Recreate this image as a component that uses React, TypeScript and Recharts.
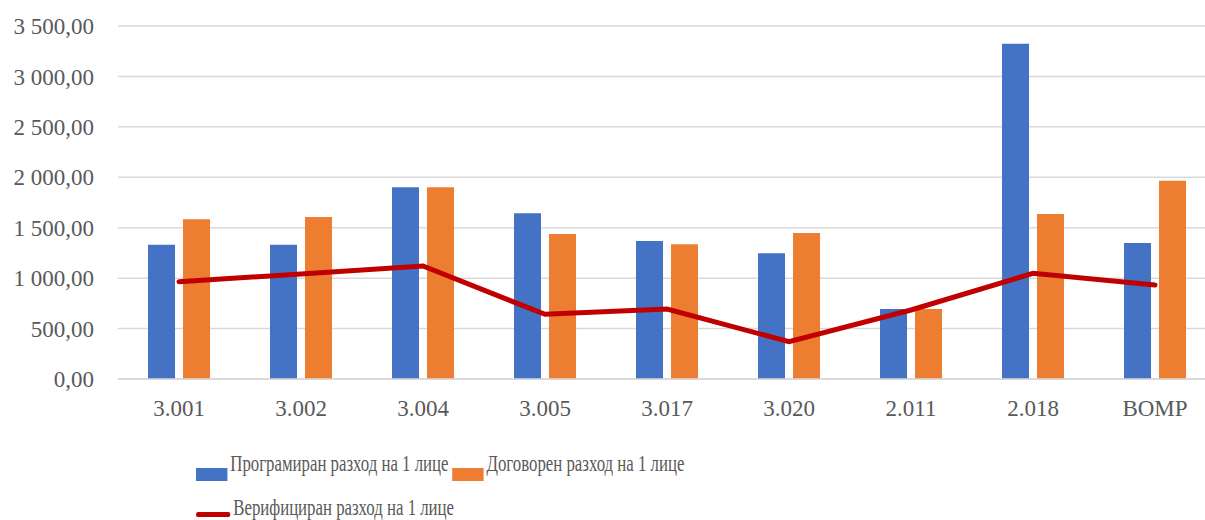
import React from "react";
import { ComposedChart, Bar, Line, XAxis, YAxis, CartesianGrid } from "recharts";

const categories = ["3.001", "3.002", "3.004", "3.005", "3.017", "3.020", "2.011", "2.018", "BOMP"];
const programmed = [1331, 1331, 1901, 1643, 1368, 1246, 694, 3325, 1348];
const contracted = [1583, 1606, 1901, 1438, 1335, 1448, 694, 1636, 1966];
const verified = [965, 1041, 1120, 641, 694, 370, 684, 1048, 932];
const yTicks = [0, 500, 1000, 1500, 2000, 2500, 3000, 3500];

const series = [
  { key: "programmed", name: "Програмиран разход на 1 лице", color: "#4472C4", kind: "bar" },
  { key: "contracted", name: "Договорен разход на 1 лице", color: "#ED7D31", kind: "bar" },
  { key: "verified", name: "Верифициран разход на 1 лице", color: "#C00000", kind: "line" },
];

const data = categories.map((name, i) => ({
  name,
  programmed: programmed[i],
  contracted: contracted[i],
  verified: verified[i],
}));

const FONT = "'Liberation Serif', 'DejaVu Serif', serif";
const TEXT = "#595959";

function fmt(v: number) {
  const [int, dec] = v.toFixed(2).split(".");
  return int.replace(/\B(?=(\d{3})+(?!\d))/g, " ") + "," + dec;
}

// legend text in the source is horizontally squeezed, so the whole legend is scaled in x
function LegendItem({ s }: { s: (typeof series)[number] }) {
  return (
    <div style={{ display: "flex", alignItems: "flex-start", marginRight: 5, flexShrink: 0 }}>
      {s.kind === "bar" ? (
        <div style={{ width: 43, height: 13, background: s.color, marginTop: 17 }} />
      ) : (
        <div style={{ width: 47, height: 5, borderRadius: 3, background: s.color, marginTop: 17 }} />
      )}
      <span style={{ marginLeft: 4, fontSize: 23, color: TEXT, fontFamily: FONT, whiteSpace: "nowrap" }}>
        {s.name}
      </span>
    </div>
  );
}

export default function App() {
  const rows = [series.filter((s) => s.kind === "bar"), series.filter((s) => s.kind === "line")];
  return (
    <div style={{ position: "absolute", left: 0, top: 0, width: 1205, height: 520, overflow: "hidden", background: "#fff" }}>
      <ComposedChart
        width={1220}
        height={520}
        data={data}
        margin={{ top: 26, right: 4, bottom: 101, left: 0 }}
        barGap={8}
        barCategoryGap="24.6%"
      >
        <CartesianGrid vertical={false} stroke="#D9D9D9" strokeWidth={1.5} />
        <XAxis
          dataKey="name"
          height={40}
          axisLine={{ stroke: "#D9D9D9", strokeWidth: 1.5 }}
          tickLine={false}
          tickSize={0}
          tickMargin={21}
          tick={{ fill: TEXT, fontSize: 23, fontFamily: FONT }}
        />
        <YAxis
          width={118}
          domain={[0, 3500]}
          ticks={yTicks}
          axisLine={false}
          tickLine={false}
          tickSize={0}
          tickMargin={24}
          tickFormatter={fmt}
          tick={{ fill: TEXT, fontSize: 23, fontFamily: FONT }}
        />
        <Bar dataKey="programmed" fill="#4472C4" isAnimationActive={false} />
        <Bar dataKey="contracted" fill="#ED7D31" isAnimationActive={false} />
        <Line
          dataKey="verified"
          type="linear"
          stroke="#C00000"
          strokeWidth={5}
          strokeLinecap="round"
          dot={false}
          activeDot={false}
          isAnimationActive={false}
        />
      </ComposedChart>
      <div
        style={{
          position: "absolute",
          left: 196,
          top: 451,
          width: 900,
          transform: "scaleX(0.73)",
          transformOrigin: "left top",
        }}
      >
        {rows.map((row, i) => (
          <div key={i} style={{ display: "flex", marginBottom: 14 }}>
            {row.map((s) => (
              <LegendItem key={s.key} s={s} />
            ))}
          </div>
        ))}
      </div>
    </div>
  );
}
